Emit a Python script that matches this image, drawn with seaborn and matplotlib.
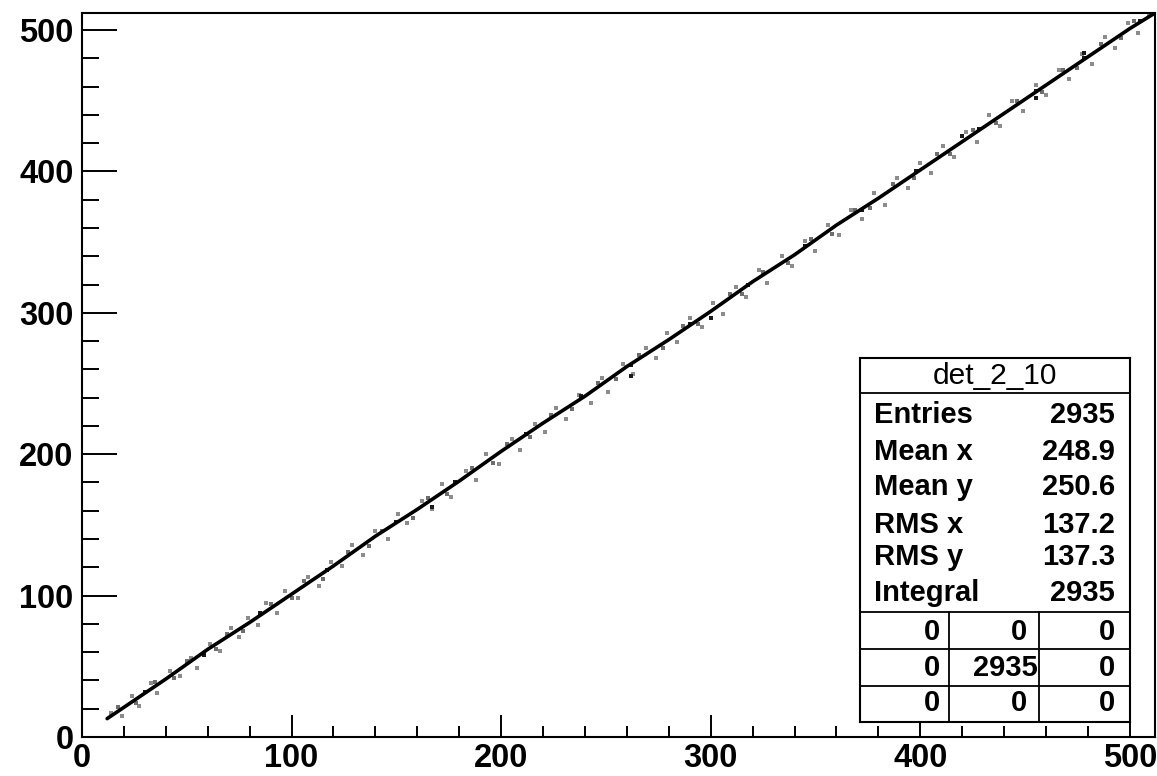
import matplotlib
matplotlib.use("Agg")
import matplotlib.pyplot as plt
import seaborn as sns
import pandas as pd

# Dense ridge of the correlation (det_2_10, y vs x)
ridge_x = [12, 20, 40, 60, 80, 100, 120, 140, 160, 180, 200, 220, 240, 260,
           280, 300, 320, 340, 360, 380, 400, 420, 440, 460, 480, 500, 512]
ridge_y = [13, 21, 41, 62, 81, 101, 121, 142, 161, 181, 202, 222, 241, 262,
           281, 301, 322, 341, 362, 381, 401, 421, 441, 461, 481, 501, 512]

# Occupied cells close to the ridge
core_x = [30, 58, 85, 117, 150, 167, 178, 212, 238, 262, 262, 290, 300, 318,
          345, 372, 398, 420, 428, 455, 455, 478, 478, 505]
core_y = [32, 58, 88, 118, 152, 163, 180, 214, 241, 263, 255, 292, 296, 320,
          347, 373, 400, 425, 430, 457, 452, 480, 484, 506]

# Sparse cells off the ridge
halo_x = [14, 19, 24, 27, 33, 36, 42, 47, 52, 55, 61, 66, 71, 75, 79, 84, 88,
          93, 97, 103, 108, 113, 119, 124, 129, 134, 140, 146, 151, 155, 162,
          167, 172, 176, 183, 188, 193, 199, 205, 209, 216, 221, 226, 231, 237,
          243, 248, 251, 258, 263, 269, 274, 279, 284, 290, 296, 301, 306, 312,
          317, 323, 327, 334, 339, 345, 350, 356, 361, 367, 372, 378, 383, 389,
          394, 400, 405, 411, 416, 422, 427, 433, 438, 444, 449, 455, 460, 466,
          471, 477, 482, 488, 493, 499, 504, 509]
halo_y = [17, 15, 29, 22, 38, 31, 47, 43, 56, 49, 66, 61, 77, 71, 84, 79, 95,
          88, 103, 98, 113, 107, 124, 121, 136, 129, 146, 140, 158, 151, 167,
          161, 179, 170, 188, 182, 200, 193, 211, 203, 221, 216, 233, 225, 242,
          236, 254, 244, 264, 257, 275, 268, 286, 279, 296, 290, 307, 299, 318,
          311, 330, 321, 340, 333, 351, 344, 362, 355, 373, 366, 385, 376, 395,
          388, 406, 399, 418, 410, 428, 421, 440, 432, 450, 443, 461, 454, 472,
          465, 483, 476, 495, 487, 505, 498, 511]

# Cells just beside the ridge
edge_x = [17, 26, 35, 44, 50, 64, 69, 77, 90, 100, 106, 115, 127, 137, 143,
          158, 165, 174, 186, 196, 203, 214, 224, 234, 246, 255, 266, 277, 287,
          294, 309, 315, 325, 337, 348, 358, 369, 376, 387, 397, 408, 414, 425,
          436, 446, 458, 468, 475, 486, 496, 502]
edge_y = [21, 24, 39, 42, 54, 62, 73, 75, 94, 98, 110, 112, 131, 135, 146,
          155, 169, 172, 190, 194, 207, 212, 228, 232, 250, 253, 270, 275, 291,
          292, 313, 313, 329, 335, 352, 356, 373, 374, 391, 395, 412, 412, 429,
          434, 450, 456, 472, 473, 490, 494, 506]

x_ticks = [0, 100, 200, 300, 400, 500]
y_ticks = [0, 100, 200, 300, 400, 500]

hist_name = "det_2_10"
stat_labels = ["Entries", "Mean x", "Mean y", "RMS x", "RMS y", "Integral"]
stat_values = ["2935", "248.9", "250.6", "137.2", "137.3", "2935"]
table_values = [["0", "0", "0"],
                ["0", "2935", "0"],
                ["0", "0", "0"]]

sns.set_theme(style="white")
plt.rcParams["font.family"] = ["Liberation Sans", "DejaVu Sans"]
plt.rcParams["text.color"] = "black"
plt.rcParams["xtick.color"] = "black"
plt.rcParams["ytick.color"] = "black"
plt.rcParams["xtick.labelcolor"] = "black"
plt.rcParams["ytick.labelcolor"] = "black"

W, H = 1157, 776
fig = plt.figure(figsize=(W / 100, H / 100), dpi=100)
fig.patch.set_facecolor("white")


def px_axes(x0, y0, x1, y1):
    """Axes placed by pixel box (top-left origin)."""
    return fig.add_axes([x0 / W, (H - y1) / H, (x1 - x0) / W, (y1 - y0) / H])


ax = px_axes(82, 13, 1155, 737)
ax.set_facecolor("white")

halo = pd.DataFrame({"x": halo_x, "y": halo_y})
edge = pd.DataFrame({"x": edge_x, "y": edge_y})
core = pd.DataFrame({"x": core_x, "y": core_y})
ridge = pd.DataFrame({"x": ridge_x, "y": ridge_y})

sns.scatterplot(data=halo, x="x", y="y", ax=ax, marker="s", s=5,
                color="#8c8c8c", linewidth=0, legend=False)
sns.scatterplot(data=edge, x="x", y="y", ax=ax, marker="s", s=5,
                color="#6e6e6e", linewidth=0, legend=False)
sns.lineplot(data=ridge, x="x", y="y", ax=ax, color="black", linewidth=2.6,
             sort=False, estimator=None)
sns.scatterplot(data=core, x="x", y="y", ax=ax, marker="s", s=6,
                color="#1a1a1a", linewidth=0, legend=False)

ax.set_xlim(0, 512)
ax.set_ylim(0, 512)
ax.set_xlabel("")
ax.set_ylabel("")
ax.set_xticks(x_ticks)
ax.set_yticks(y_ticks)
ax.set_xticks(range(0, 512, 20), minor=True)
ax.set_yticks(range(0, 512, 20), minor=True)
ax.set_xticklabels([str(t) for t in x_ticks])
ax.set_yticklabels([str(t) for t in y_ticks])
for lab in ax.get_xticklabels() + ax.get_yticklabels():
    lab.set_fontweight("bold")
    lab.set_fontsize(23.5)
    lab.set_color("black")

ax.tick_params(axis="x", which="major", direction="in", length=16, width=1.4,
               pad=4, color="black", bottom=True, top=False)
ax.tick_params(axis="x", which="minor", direction="in", length=8, width=1.4,
               color="black", bottom=True, top=False)
ax.tick_params(axis="y", which="major", direction="in", length=25, width=1.4,
               pad=6, color="black", left=True, right=False)
ax.tick_params(axis="y", which="minor", direction="in", length=12, width=1.4,
               color="black", left=True, right=False)
for side in ["left", "right", "top", "bottom"]:
    ax.spines[side].set_visible(True)
    ax.spines[side].set_color("black")
    ax.spines[side].set_linewidth(1.5)

# Statistics box
sb = px_axes(860, 358, 1130, 722)
sb.set_xlim(0, 270)
sb.set_ylim(364, 0)
sb.set_xticks([])
sb.set_yticks([])
sb.set_facecolor("white")
for side in sb.spines.values():
    side.set_color("black")
    side.set_linewidth(1.5)

lw = 1.3
sb.plot([0, 270], [35, 35], color="black", lw=lw)
sb.plot([0, 270], [254, 254], color="black", lw=lw)
sb.plot([0, 270], [291, 291], color="black", lw=lw)
sb.plot([0, 270], [328, 328], color="black", lw=lw)
sb.plot([89, 89], [254, 364], color="black", lw=lw)
sb.plot([179, 179], [254, 364], color="black", lw=lw)

sb.text(135, 18, hist_name, ha="center", va="center", fontsize=21.5,
        color="black")
row_y = [57, 94, 129, 167, 199, 235]
for yy, lab, val in zip(row_y, stat_labels, stat_values):
    sb.text(14, yy, lab, ha="left", va="center", fontsize=21,
            fontweight="bold", color="black")
    sb.text(255, yy, val, ha="right", va="center", fontsize=21,
            fontweight="bold", color="black")

cell_y = [274, 310, 345]
for r, row in enumerate(table_values):
    for c, val in enumerate(row):
        if c == 0:
            xr = 80
        elif c == 1:
            xr = 178 if len(val) > 1 else 167
        else:
            xr = 255
        sb.text(xr, cell_y[r], val, ha="right", va="center", fontsize=21,
                fontweight="bold", color="black")

fig.savefig("out.png", dpi=100, facecolor="white")
